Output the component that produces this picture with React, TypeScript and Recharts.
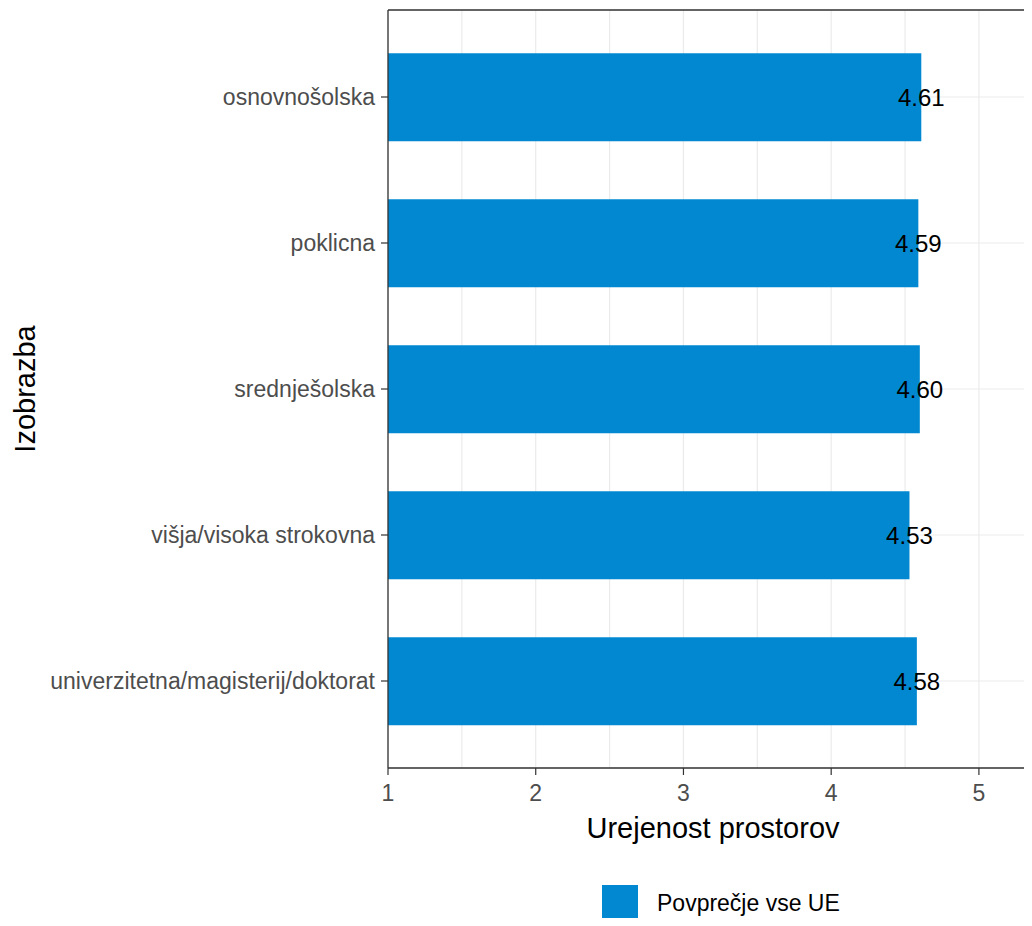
import {
  BarChart, Bar, XAxis, YAxis, CartesianGrid, LabelList, Legend,
} from 'recharts'

const categories = [
  'osnovnošolska',
  'poklicna',
  'srednješolska',
  'višja/visoka strokovna',
  'univerzitetna/magisterij/doktorat',
]
const means = [4.61, 4.59, 4.6, 4.53, 4.58]
const xTicks = [1, 1.5, 2, 2.5, 3, 3.5, 4, 4.5, 5]
const xDomain = [1, 5.4]
const seriesName = 'Povprečje vse UE'

const data = categories.map((name, i) => ({ name, value: means[i] }))

const BLUE = '#0288d1'
const AXIS = '#333333'
const TICK_TEXT = '#4d4d4d'
const X_TICK_SIZE = 7
const X_TICK_MARGIN = 10

function XTick(props: any) {
  const { x, y, payload } = props
  const v = payload.value
  if (!Number.isInteger(v)) return <g />
  return (
    <g>
      <line x1={x} x2={x} y1={y - X_TICK_MARGIN - X_TICK_SIZE} y2={y - X_TICK_MARGIN} stroke={AXIS} strokeWidth={1.2} />
      <text x={x} y={y} dy="0.71em" textAnchor="middle" fill={TICK_TEXT} fontSize={23}>{v}</text>
    </g>
  )
}

function ValueLabel(props: any) {
  const { x, y, width, height, value } = props
  return (
    <text x={x + width} y={y + height / 2} dy="0.36em" textAnchor="middle" fill="#000" fontSize={24}>
      {Number(value).toFixed(2)}
    </text>
  )
}

function LegendBox() {
  return (
    <div style={{ position: 'relative', height: 78 }}>
      <div style={{ position: 'absolute', left: 602, top: 37, width: 36, height: 36, background: BLUE }} />
      <div style={{ position: 'absolute', left: 657, top: 37, height: 36, lineHeight: '36px', fontSize: 23, color: '#000' }}>
        {seriesName}
      </div>
    </div>
  )
}

export default function App() {
  return (
    <div style={{ margin: -8, width: 1032, height: 926, overflow: 'hidden', background: '#fff', fontFamily: '"Liberation Sans", Arial, sans-serif' }}>
      <BarChart
        width={1050}
        height={926}
        data={data}
        layout="vertical"
        margin={{ top: 9, right: 12, bottom: 0, left: 0 }}
        barCategoryGap="20%"
      >
        <CartesianGrid stroke="#ebebeb" strokeWidth={1.2} />
        <XAxis
          type="number"
          domain={xDomain}
          ticks={xTicks}
          allowDataOverflow
          tickLine={false}
          tickSize={X_TICK_SIZE}
          tickMargin={X_TICK_MARGIN}
          tick={<XTick />}
          axisLine={{ stroke: AXIS, strokeWidth: 1.3 }}
          height={80}
          label={{
            content: ({ viewBox }: any) => (
              <text x={viewBox.x + viewBox.width / 2} y={viewBox.y + 70} textAnchor="middle" fill="#000" fontSize={29}>
                Urejenost prostorov
              </text>
            ),
          }}
        />
        {/* top edge of the panel border */}
        <XAxis
          xAxisId="top"
          orientation="top"
          type="number"
          domain={xDomain}
          ticks={[1, 5]}
          allowDataOverflow
          height={1}
          tick={false}
          tickLine={false}
          axisLine={{ stroke: AXIS, strokeWidth: 1.3 }}
        />
        <YAxis
          type="category"
          dataKey="name"
          width={388}
          padding={{ top: 14, bottom: 14 }}
          tickSize={7}
          tickMargin={6}
          tickLine={{ stroke: AXIS, strokeWidth: 1.2 }}
          axisLine={{ stroke: AXIS, strokeWidth: 1.3 }}
          tick={{ fill: TICK_TEXT, fontSize: 23 }}
          interval={0}
          label={{
            content: ({ viewBox }: any) => (
              <text
                x={35}
                y={viewBox.y + viewBox.height / 2}
                transform={`rotate(-90 35 ${viewBox.y + viewBox.height / 2})`}
                textAnchor="middle"
                fill="#000"
                fontSize={29}
              >
                Izobrazba
              </text>
            ),
          }}
        />
        <Legend verticalAlign="bottom" wrapperStyle={{ left: 0, bottom: 0, width: 1050, height: 78 }} content={() => <LegendBox />} />
        <Bar dataKey="value" name={seriesName} fill={BLUE} isAnimationActive={false}>
          <LabelList dataKey="value" content={<ValueLabel />} />
        </Bar>
      </BarChart>
    </div>
  )
}
